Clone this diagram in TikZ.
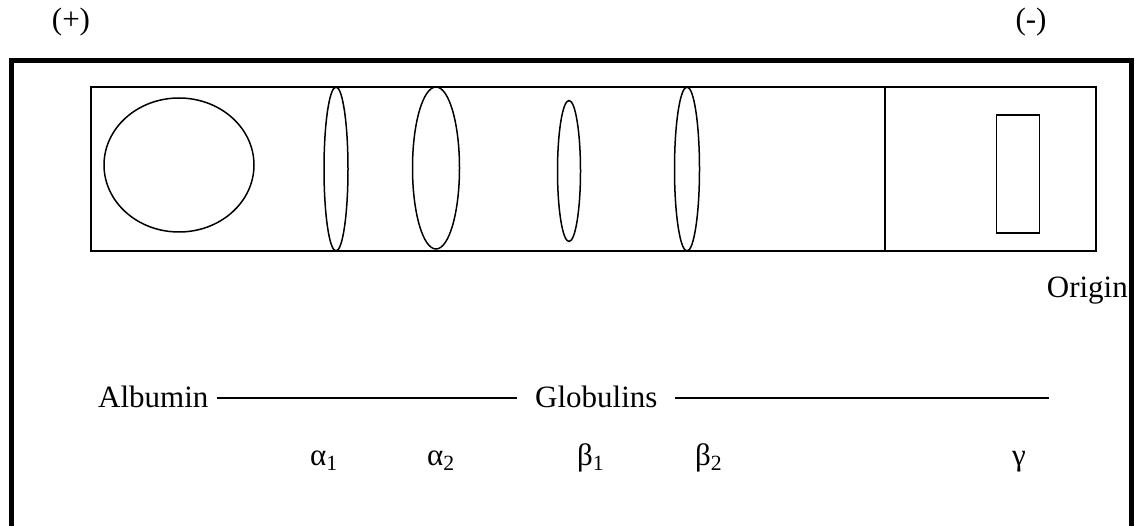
\documentclass[tikz,border=0pt]{standalone}
\usepackage{fontspec}
\setmainfont{Liberation Serif}
\usetikzlibrary{shapes.geometric}
\begin{document}
\begin{tikzpicture}[x=1pt,y=-1pt,
  lbl/.style={font=\fontsize{31}{36}\selectfont, inner sep=0pt},
  band/.style={draw, ellipse, line width=1.5pt, inner sep=0pt},
  thin/.style={line width=1.3pt},
  frame/.style={line width=5pt}]
\useasboundingbox (0,0) rectangle (1135,526);
\begin{scope}
  \clip (0,0) rectangle (1135,526);
  \draw[frame] (11,61) rectangle (1131,620);
\end{scope}
% strip
\draw[thin] (91,87) rectangle (1096,251);
\draw[thin] (885,87) -- (885,251);
% bands
\node[band, minimum width=150pt, minimum height=134pt] (alb) at (179,165) {};
\node[band, minimum width=24pt, minimum height=164pt] (a1) at (336,169) {};
\node[band, minimum width=47pt, minimum height=162pt] (a2) at (436,168) {};
\node[band, minimum width=23pt, minimum height=141pt] (b1) at (569,171) {};
\node[band, minimum width=25pt, minimum height=164pt] (b2) at (687,169) {};
\node[draw, thin, minimum width=43pt, minimum height=118pt, inner sep=0pt] (g) at (1018,174) {};
% polarity
\node[lbl, anchor=base] (plus) at (71,30) {(+)};
\node[lbl, anchor=base] (minus) at (1031,30) {(-)};
\node[lbl, anchor=base east] (origin) at (1128,298) {Origin};
% row of names
\node[lbl, anchor=base west] (albt) at (98,407) {Albumin};
\node[lbl, anchor=base west] (glob) at (535,407) {Globulins};
\coordinate (l1a) at (217,398);
\coordinate (l1b) at (517,398);
\coordinate (l2a) at (675,398);
\coordinate (l2b) at (1049,398);
\draw[thin] (l1a) -- (l1b);
\draw[thin] (l2a) -- (l2b);
% greek
\node[lbl, anchor=base west] (ga1) at (310,465) {α\textsubscript{1}};
\node[lbl, anchor=base west] (ga2) at (427,465) {α\textsubscript{2}};
\node[lbl, anchor=base west] (gb1) at (577,465) {β\textsubscript{1}};
\node[lbl, anchor=base west] (gb2) at (695,465) {β\textsubscript{2}};
\node[lbl, anchor=base west] (gg) at (1012,465) {γ};
\end{tikzpicture}
\end{document}
